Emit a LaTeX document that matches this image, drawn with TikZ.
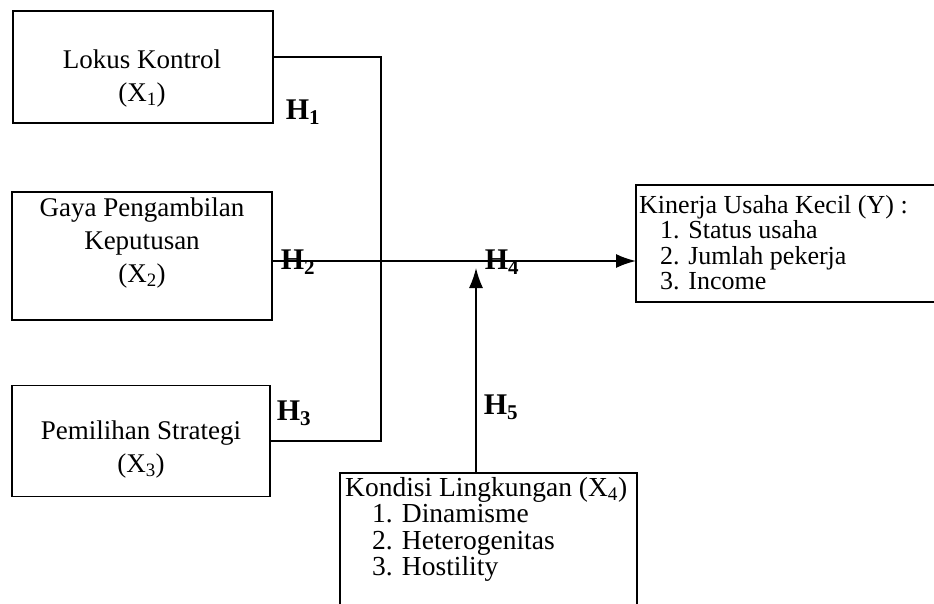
\documentclass[tikz,border=0pt]{standalone}
\usepackage{fontspec}
\setmainfont{Liberation Serif}
\usetikzlibrary{arrows.meta}
\tikzset{
  box/.style={draw, line width=1.3pt, inner sep=0pt},
  boxtext/.style={align=center, inner sep=0pt, font=\fontsize{27}{33}\selectfont},
  listtext/.style={align=left, inner sep=0pt, anchor=north west},
  hlab/.style={inner sep=0pt, font=\fontsize{30}{30}\selectfont\bfseries},
  conn/.style={line width=1.4pt},
  mainline/.style={line width=1.8pt},
  tip/.style={-{Latex[length=20pt,width=14pt]}}
}
\begin{document}
\begin{tikzpicture}[x=1pt,y=-1pt]
\useasboundingbox (0,0) rectangle (934,604);
% left boxes
\node[box, minimum width=260pt, minimum height=112pt] (x1) at (143,67) {};
\node[boxtext] (x1t) at (142,79) {Lokus Kontrol\\(X\textsubscript{1})};
\node[box, minimum width=260pt, minimum height=128pt] (x2) at (142,256) {};
\node[boxtext] (x2t) at (142,243) {Gaya Pengambilan\\Keputusan\\(X\textsubscript{2})};
\node[box, minimum width=258pt, minimum height=111pt] (x3) at (141,441) {};
\node[boxtext] (x3t) at (141,450) {Pemilihan Strategi\\(X\textsubscript{3})};
% right box Y (open on the right)
\coordinate (ytl) at (636,185);
\coordinate (ybl) at (636,302);
\draw[conn] (934,185) -- (ytl) -- (ybl) -- (934,302);
\node[listtext, font=\fontsize{26}{25.5}\selectfont] (ytext) at (639,195) {Kinerja Usaha Kecil (Y) :\\
\hspace*{21pt}1. Status usaha\\
\hspace*{21pt}2. Jumlah pekerja\\
\hspace*{21pt}3. Income};
% bottom box X4 (open at bottom)
\coordinate (ktl) at (340,473);
\coordinate (ktr) at (637,473);
\draw[conn] (340,604) -- (ktl) -- (ktr) -- (637,604);
\node[listtext, font=\fontsize{27.5}{26.5}\selectfont] (ktext) at (345,477) {Kondisi Lingkungan (X\textsubscript{4})\\
\hspace*{27pt}1. Dinamisme\\
\hspace*{27pt}2. Heterogenitas\\
\hspace*{27pt}3. Hostility};
% connectors
\coordinate (j1) at (381,57);
\coordinate (j3) at (381,441);
\coordinate (m) at (x2.east |- 0,261);
\coordinate (yin) at (ytl |- 0,261);
\coordinate (kup) at (476,473);
\coordinate (kend) at (476,268);
\draw[conn] (x1.east |- j1) -- (j1) -- (j3) -- (x3.east |- j3);
\draw[mainline, tip] (m) -- (yin);
\draw[conn, tip] (kup) -- (kend);
% labels
\node[hlab] (h1) at (303,112) {H\textsubscript{1}};
\node[hlab] (h2) at (298,262) {H\textsubscript{2}};
\node[hlab] (h3) at (294,413) {H\textsubscript{3}};
\node[hlab] (h4) at (502,262) {H\textsubscript{4}};
\node[hlab] (h5) at (501,407) {H\textsubscript{5}};
\end{tikzpicture}
\end{document}
